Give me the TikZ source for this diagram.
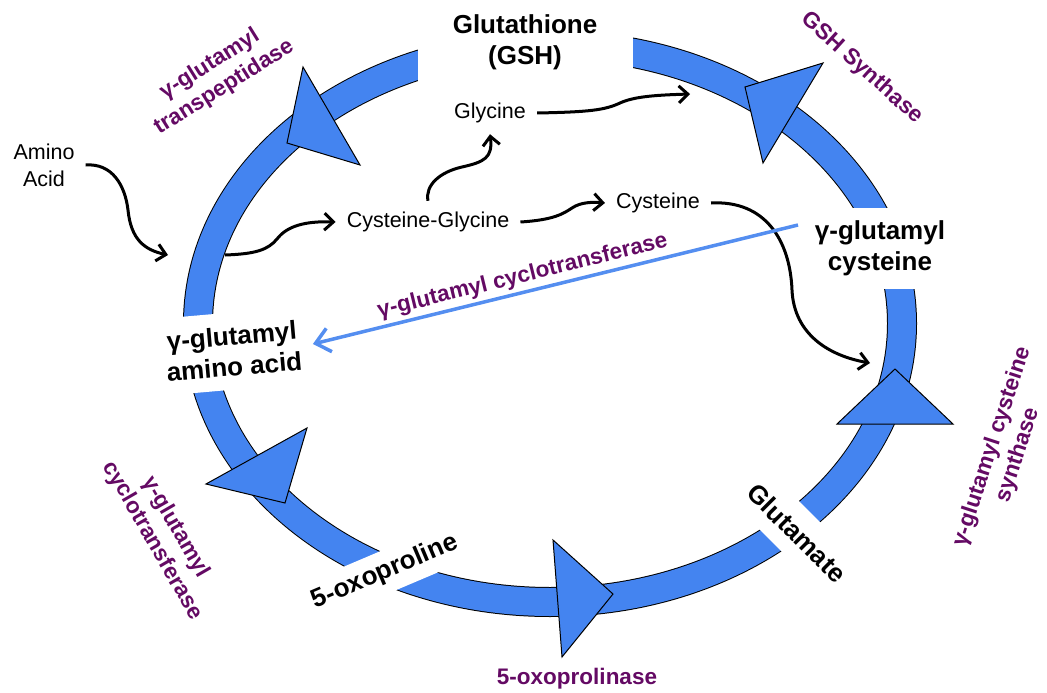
\documentclass[tikz,border=0pt]{standalone}
\usepackage{fontspec}
\setmainfont{Liberation Sans}
\usetikzlibrary{arrows.meta}

\definecolor{ringblue}{RGB}{68,132,240}
\definecolor{lineblue}{RGB}{84,142,240}
\definecolor{enzyme}{RGB}{100,10,100}

\tikzset{
  ring/.style={line width=1pt, double=ringblue, double distance=28pt},
  head/.style={fill=ringblue, draw=black, line width=1pt, line join=miter},
  metab/.style={fill=white, font=\fontsize{26}{31}\selectfont\bfseries, align=center, inner sep=0pt},
  enz/.style={text=enzyme, font=\fontsize{22.5}{27}\selectfont\bfseries, align=center},
  small/.style={font=\fontsize{21.5}{27}\selectfont, align=center, inner sep=11pt},
  flow/.style={line width=3pt, -{Straight Barb[length=9pt,width=17pt]}},
}

\begin{document}
\begin{tikzpicture}[x=1pt, y=-1pt]
\useasboundingbox (0,0) rectangle (1047,693);

% the cycle
\draw[ring] (550,323.5) ellipse [x radius=352pt, y radius=278.5pt];

% arrow heads on the cycle
\filldraw[head] (303,67)  -- (287,143) -- (360,165) -- cycle;
\filldraw[head] (823,63)  -- (745,87)  -- (763,163) -- cycle;
\filldraw[head] (307,428) -- (285,503) -- (206,484) -- cycle;
\filldraw[head] (553,540) -- (613,594) -- (562,657) -- cycle;
\filldraw[head] (837,424) -- (895,369) -- (953,424) -- cycle;

% metabolites on the cycle
\node[metab, minimum width=215pt, minimum height=84pt] (gsh) at (525,42) {Glutathione\\(GSH)};
\node[metab, minimum width=164pt, minimum height=81pt] (gcys) at (880,248) {γ-glutamyl\\cysteine};
\node[metab, minimum width=160pt, minimum height=77pt, rotate=5] (gaa) at (233,351) {γ-glutamyl\\amino acid};
\node[metab, minimum width=170pt, minimum height=42pt, rotate=23] (oxo) at (385,572) {5-oxoproline};
\node[metab, minimum width=150pt, minimum height=48pt, rotate=-45] (glu) at (797,533) {Glutamate};

% enzymes
\node[enz, rotate=32] (gtp) at (217,76) {γ-glutamyl\\transpeptidase};
\node[enz, rotate=-42] (gss) at (862,68) {GSH Synthase};
\node[enz, rotate=72] (gcs) at (1005,451) {γ-glutamyl cysteine\\synthase};
\node[enz, rotate=-60] (gct) at (164,534) {γ-glutamyl\\cyclotransferase};
\node[enz] (opl) at (577,679) {5-oxoprolinase};

% side products
\node[small] (amino) at (44,165) {Amino\\Acid};
\node[small] (cysgly) at (428,222) {Cysteine-Glycine};
\node[small] (gly) at (490,113) {Glycine};
\node[small] (cys) at (658,203) {Cysteine};

\coordinate (aain) at (168,255);
\coordinate (ringout) at (225,255);
\coordinate (gshin) at (690,94);
\coordinate (gcin) at (870,363);
\coordinate (blue0) at (798,225);

\draw[flow] (amino.east) .. controls (112,163) and (125,185) .. (128,210) .. controls (131,240) and (145,250) .. (aain);
\draw[flow] (ringout) .. controls (255,254) and (268,250) .. (277,239) .. controls (287,226) and (305,221) .. (cysgly.west);
\draw[flow] (cysgly.north) .. controls (425,185) and (440,172) .. (462,167) .. controls (484,162) and (493,158) .. (gly.south);
\draw[flow] (gly.east) .. controls (590,112) and (605,110) .. (620,103) .. controls (635,96) and (660,95) .. (gshin);
\draw[flow] (cysgly.east) .. controls (553,220) and (563,214) .. (572,208) .. controls (581,202) and (592,202) .. (cys.west);
\draw[flow] (cys.east) .. controls (765,200) and (790,240) .. (792,290) .. controls (794,335) and (830,356) .. (gcin);

\draw[line width=3.5pt, lineblue, -{Straight Barb[length=14pt,width=24pt]}] (blue0) -- (gaa.east)
  node[enz, pos=0.56, above, sloped] (gct2) {γ-glutamyl cyclotransferase};
\end{tikzpicture}
\end{document}
